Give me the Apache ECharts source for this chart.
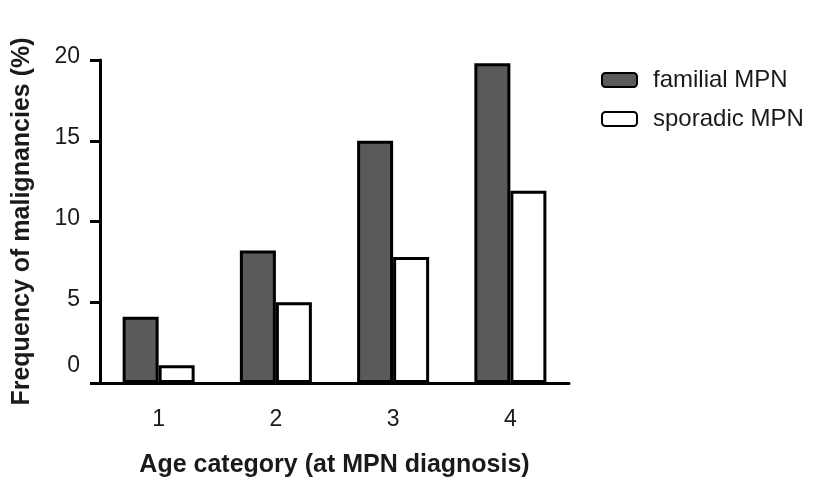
<!DOCTYPE html>
<html>
<head>
<meta charset="utf-8">
<script src="https://cdn.jsdelivr.net/npm/echarts@6/dist/echarts.min.js"></script>
<style>html,body{margin:0;padding:0;background:#fff}#c{width:816px;height:483px}</style>
</head>
<body>
<div id="c"></div>
<script>
const categories = ['1', '2', '3', '4'];
const familialMPN = [4.1, 8.2, 15.0, 19.8];
const sporadicMPN = [1.1, 5.0, 7.8, 11.9];
const yTicks = [0, 5, 10, 15, 20];

const chart = echarts.init(document.getElementById('c'));
const font = 'Liberation Sans, Arial, sans-serif';
chart.setOption({
  animation: false,
  backgroundColor: '#ffffff',
  textStyle: { fontFamily: font },
  legend: {
    orient: 'vertical',
    left: 596,
    top: 63,
    itemWidth: 35,
    itemHeight: 14,
    itemGap: 15,
    textStyle: { fontSize: 24, color: '#1a1a1a', fontFamily: font, padding: [0, 0, 0, 11] },
    data: ['familial MPN', 'sporadic MPN']
  },
  grid: { left: 100, right: 247, top: 60, bottom: 99, containLabel: false },
  xAxis: {
    type: 'category',
    data: categories,
    name: 'Age category (at MPN diagnosis)',
    nameLocation: 'middle',
    nameGap: 70,
    nameTextStyle: { fontSize: 25, fontWeight: 'bold', color: '#1a1a1a', fontFamily: font },
    axisLine: { lineStyle: { color: '#000', width: 3 } },
    axisTick: { alignWithLabel: true, length: 10, lineStyle: { color: '#000', width: 3 } },
    axisLabel: { fontSize: 23, color: '#1a1a1a', margin: 25, fontFamily: font }
  },
  yAxis: {
    type: 'value',
    min: yTicks[0],
    max: yTicks[yTicks.length - 1],
    interval: 5,
    name: 'Frequency of malignancies (%)',
    nameLocation: 'middle',
    nameGap: 65,
    nameTextStyle: { fontSize: 25, fontWeight: 'bold', color: '#1a1a1a', fontFamily: font },
    splitLine: { show: false },
    axisLine: { show: true, lineStyle: { color: '#000', width: 3 } },
    axisTick: { show: true, length: 10, lineStyle: { color: '#000', width: 3 } },
    axisLabel: {
      fontSize: 23, color: '#1a1a1a', margin: 20, fontFamily: font,
      formatter: function (v) { return v === 0 ? '{z|0}' : '{n|' + v + '}'; },
      rich: {
        z: { fontSize: 23, color: '#1a1a1a', fontFamily: font, padding: [0, 0, 34, 0] },
        n: { fontSize: 23, color: '#1a1a1a', fontFamily: font, padding: [0, 0, 6, 0] }
      }
    }
  },
  series: [
    {
      name: 'familial MPN',
      type: 'bar',
      data: familialMPN,
      barWidth: 36,
      barGap: '0%',
      itemStyle: { color: '#5a5a5a', borderColor: '#000', borderWidth: 3 }
    },
    {
      name: 'sporadic MPN',
      type: 'bar',
      data: sporadicMPN,
      barWidth: 36,
      barGap: '0%',
      itemStyle: { color: '#ffffff', borderColor: '#000', borderWidth: 3 }
    }
  ]
});
</script>
</body>
</html>
